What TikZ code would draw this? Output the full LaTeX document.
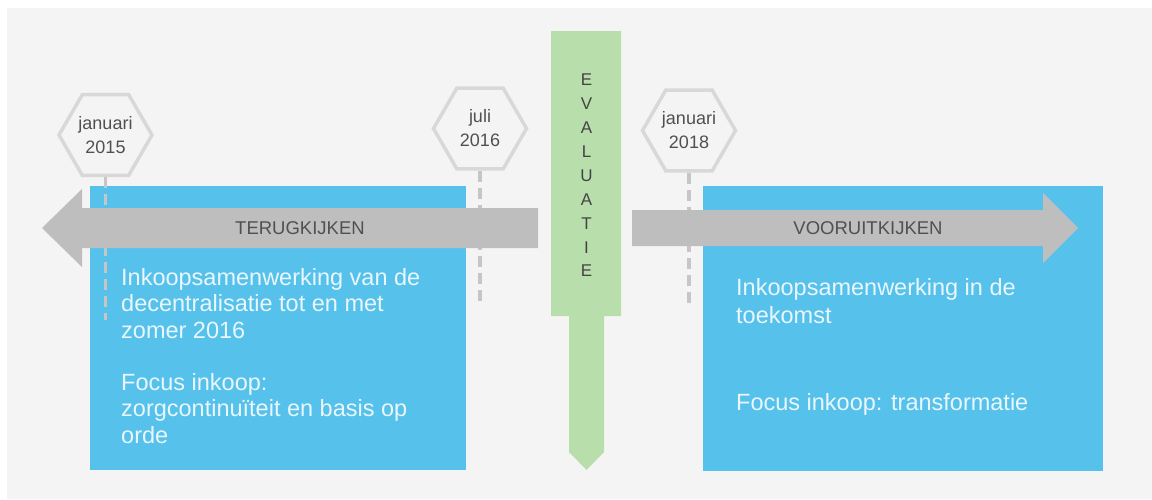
\documentclass[tikz,border=0pt]{standalone}
\usepackage{fontspec}
\setmainfont{Liberation Sans}
\usetikzlibrary{shapes.geometric}

\definecolor{panel}{HTML}{F4F4F4}
\definecolor{skyblue}{HTML}{56C2EC}
\definecolor{arrowgray}{HTML}{BEBEBE}
\definecolor{evalgreen}{HTML}{B8DFAB}
\definecolor{hexline}{HTML}{D8D8D8}
\definecolor{dashgray}{HTML}{C6C6C6}
\definecolor{labelgray}{HTML}{505050}
\definecolor{paletext}{HTML}{E9F6FC}

\begin{document}
\begin{tikzpicture}[x=1pt,y=-1pt,
  bluebox/.style={fill=skyblue, draw=none, inner sep=0pt, outer sep=0pt, anchor=north west},
  hexnode/.style={regular polygon, regular polygon sides=6, draw=hexline, line width=3.5pt,
    minimum size=93pt, inner sep=0pt, align=center, text=labelgray,
    font=\fontsize{18}{24}\selectfont},
  timeline/.style={draw=dashgray, line width=3.5pt, dash pattern=on 11pt off 6pt},
  bigarrow/.style={fill=arrowgray},
  arrowlabel/.style={font=\fontsize{18.5}{20}\selectfont, text=labelgray, inner sep=0pt},
  boxtextL/.style={font=\fontsize{23.5}{26.4}\selectfont, text=paletext, align=left,
    anchor=north west, inner sep=0pt},
  boxtextR/.style={font=\fontsize{23.5}{28}\selectfont, text=paletext, align=left,
    anchor=north west, inner sep=0pt},
  evalletters/.style={font=\fontsize{17}{23.9}\selectfont, text=labelgray!85!black, align=center, inner sep=0pt},
]
\useasboundingbox (0,0) rectangle (1152,499);
\fill[white] (0,0) rectangle (1152,499);
\fill[panel] (7,8) rectangle (1152,499);

% the two periods
\node[bluebox, minimum width=376pt, minimum height=284pt] (past) at (90,186) {};
\node[bluebox, minimum width=400pt, minimum height=285pt] (future) at (703,186) {};

% milestones
\node[hexnode] (h15) at (105.5,135) {januari\\2015};
\node[hexnode] (h16) at (480,128.5) {juli\\2016};
\node[hexnode] (h18) at (689,130.5) {januari\\2018};

\coordinate (e15) at (104,320);
\coordinate (e16) at (481,303);
\coordinate (e18) at (689,303);
\draw[timeline] (h15.south) -- (h15.south |- e15);
\draw[timeline] (h16.south) -- (h16.south |- e16);
\draw[timeline] (h18.south) -- (h18.south |- e18);

% direction arrows
\fill[bigarrow] (538,208) -- (82,208) -- (82,189) -- (42,228) -- (82,267) -- (82,248) -- (538,248) -- cycle;
\node[arrowlabel] (back) at (300,228) {TERUGKIJKEN};
\fill[bigarrow] (632,210) -- (1043,210) -- (1043,193) -- (1078,228) -- (1043,263) -- (1043,246) -- (632,246) -- cycle;
\node[arrowlabel] (ahead) at (868,228) {VOORUITKIJKEN};

% evaluation column
\fill[evalgreen] (551,31) -- (621,31) -- (621,316) -- (604,316) -- (604,452) -- (586.5,470)
  -- (569,452) -- (569,316) -- (551,316) -- cycle;
\node[evalletters] (eval) at (586.5,175.5) {E\\V\\A\\L\\U\\A\\T\\I\\E};

% box texts
\node[boxtextL] (pastA) at (121,268.2) {Inkoopsamenwerking van de\\decentralisatie tot en met\\zomer 2016};
\node[boxtextL] (pastB) at (121,373.2) {Focus inkoop:\\zorgcontinuïteit en basis op\\orde};
\node[boxtextR] (futA) at (736,278.2) {Inkoopsamenwerking in de\\toekomst};
\node[boxtextR] (futB) at (736,393.2) {Focus inkoop: transformatie};
\end{tikzpicture}
\end{document}
